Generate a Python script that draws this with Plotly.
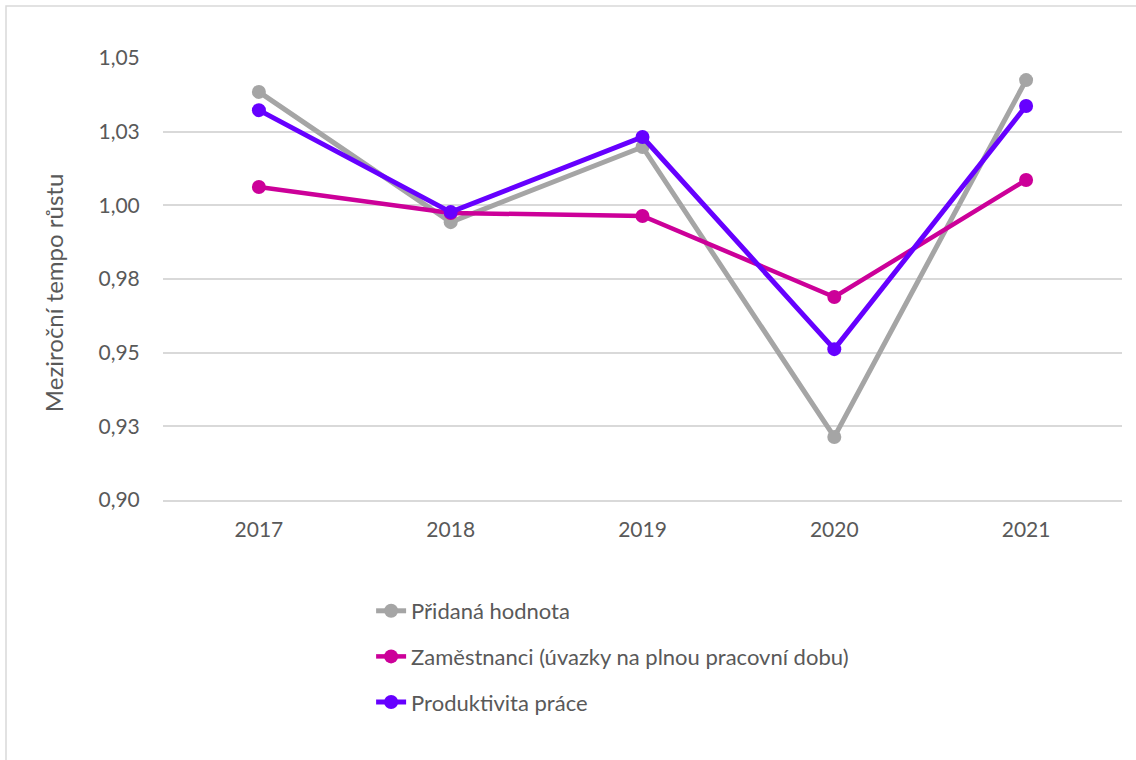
import plotly.graph_objects as go

# data
years = ["2017", "2018", "2019", "2020", "2021"]
pridana_hodnota = [1.0385, 0.9943, 1.0198, 0.9214, 1.0425]
zamestnanci = [1.0062, 0.9974, 0.9964, 0.9689, 1.0086]
produktivita = [1.0323, 0.9977, 1.0232, 0.9512, 1.0337]

y_ticks = [0.90, 0.925, 0.95, 0.975, 1.00, 1.025, 1.05]
y_labels = ["0,90", "0,93", "0,95", "0,98", "1,00", "1,03", "1,05"]

series = [
    ("Přidaná hodnota", pridana_hodnota, "#A5A5A5", 5),
    ("Zaměstnanci (úvazky na plnou pracovní dobu)", zamestnanci, "#CC0099", 4.5),
    ("Produktivita práce", produktivita, "#6600FF", 5),
]

FONT = "Lato"
TXT = "#595959"

fig = go.Figure()
for i, (name, vals, color, w) in enumerate(series):
    fig.add_trace(go.Scatter(
        x=years, y=vals, name=name, mode="lines+markers",
        line=dict(color=color, width=w),
        marker=dict(color=color, size=14),
        legendgroup=f"g{i}",
    ))

fig.update_layout(
    width=1136, height=760,
    paper_bgcolor="white", plot_bgcolor="white",
    margin=dict(l=163, r=14, t=58, b=260),
    font=dict(family=FONT, size=21, color=TXT),
    showlegend=True,
    legend=dict(
        x=0.217, y=-0.2036, xanchor="left", yanchor="top",
        orientation="v", tracegroupgap=14,
        font=dict(family=FONT, size=22, color=TXT),
    ),
    xaxis=dict(
        type="category", range=[-0.5, 4.5],
        showgrid=False, showline=True, linecolor="#D9D9D9", linewidth=1.5,
        ticks="outside", ticklen=10, tickcolor="rgba(0,0,0,0)",
        tickfont=dict(family=FONT, size=21, color=TXT),
        fixedrange=True,
    ),
    yaxis=dict(
        range=[0.90, 1.05], tickvals=y_ticks, ticktext=y_labels,
        showgrid=True, gridcolor="#D9D9D9", gridwidth=1.5,
        zeroline=False, showline=False,
        ticks="outside", ticklen=18, tickcolor="rgba(0,0,0,0)",
        tickfont=dict(family=FONT, size=21, color=TXT),
        fixedrange=True,
    ),
    shapes=[dict(
        type="rect", xref="paper", yref="paper",
        x0=-0.1637, x1=1.05, y0=-0.7, y1=1.1176,
        line=dict(color="#D9D9D9", width=1.5), layer="below",
    )],
    annotations=[dict(
        text="Meziroční tempo růstu", textangle=-90,
        xref="paper", yref="paper", x=-0.1147, y=0.468,
        xanchor="center", yanchor="middle",
        showarrow=False, font=dict(family=FONT, size=24, color=TXT),
    )],
)

# drop the default 8px body margin so the figure sits at the page corner
fig.write_html("out.html", config={"displayModeBar": False},
               post_script="document.body.style.margin = '0';")
